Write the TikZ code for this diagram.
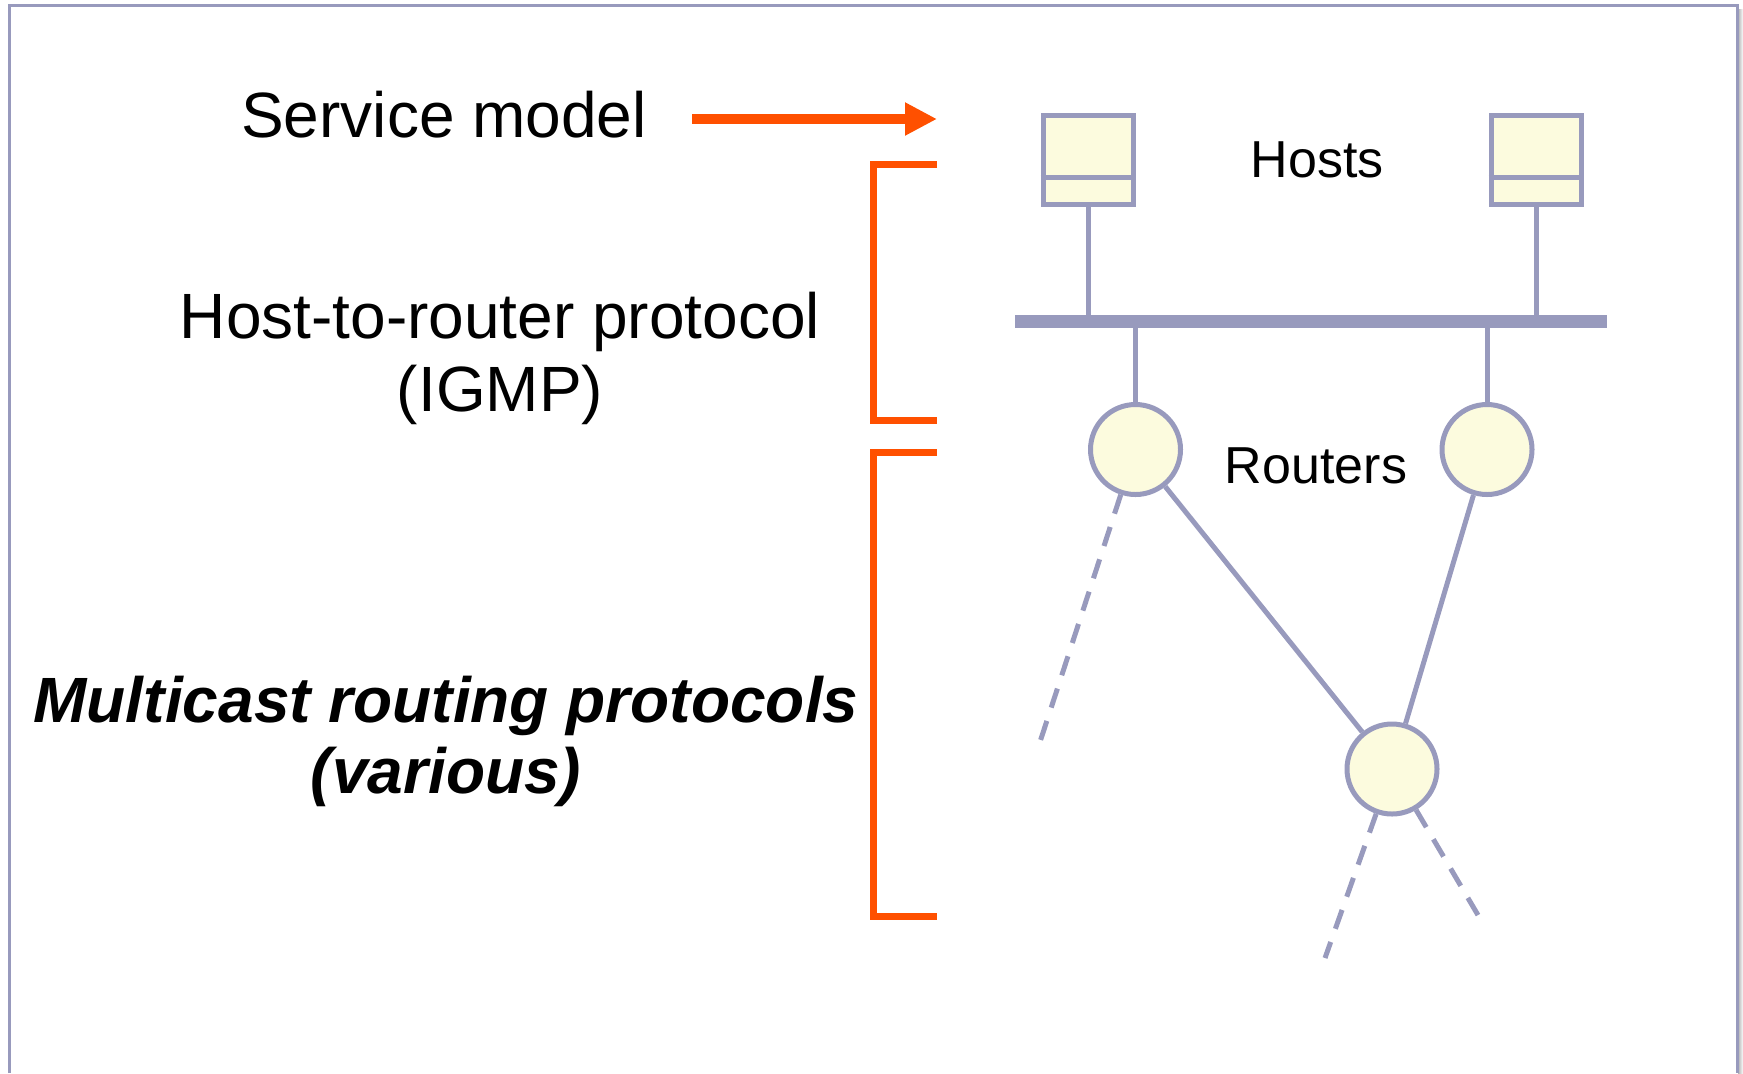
\documentclass[tikz,border=0pt]{standalone}
\usepackage{fontspec}
\setmainfont{Liberation Sans}
\usetikzlibrary{arrows.meta,calc}
\definecolor{netblue}{RGB}{152,154,189}
\definecolor{netfill}{RGB}{252,251,222}
\definecolor{brkorange}{RGB}{255,80,0}
\begin{document}
\begin{tikzpicture}
  [
    x=0.5pt, y=-0.5pt,
    host/.style =
      {draw=netblue, fill=netfill, line width=2.5pt, rectangle,
       minimum width=45pt, minimum height=44.5pt, inner sep=0pt},
    router/.style =
      {draw=netblue, fill=netfill, line width=2.5pt, circle,
       minimum size=45pt, inner sep=0pt},
    lan/.style =
      {fill=netblue, rectangle, minimum width=296pt, minimum height=6.5pt, inner sep=0pt},
    link/.style    = {draw=netblue, line width=2.5pt},
    stub/.style    = {link, dash pattern=on 10pt off 7pt},
    bracket/.style = {draw=brkorange, line width=3.5pt},
    pointer/.style = {draw=brkorange, line width=5pt, -{Triangle[length=16pt, width=15.5pt]}},
    bigtext/.style   = {anchor=base, inner sep=0pt, font=\fontsize{32}{38}\selectfont},
    boldtext/.style  = {anchor=base, inner sep=0pt, font=\fontsize{32}{38}\selectfont\bfseries\itshape},
    smalltext/.style = {anchor=base, inner sep=0pt, font=\fontsize{26}{31}\selectfont}
  ]
  \useasboundingbox (0,0) rectangle (1743,1073);
  \shade [left color=black!30, right color=white] (1738,9) rectangle (1743,1073);
  \draw [netblue, line width=1.5pt] (9,1073) -- (9,5) -- (1737,5) -- (1737,1073);

  \node [bigtext]   at ( 444,137) (svc)  {Service model};
  \node [bigtext]   at ( 500,338) (h2r)  {Host-to-router protocol};
  \node [bigtext]   at ( 500,411) (igmp) {(IGMP)};
  \node [boldtext]  at ( 446,722) (mrp)  {Multicast routing protocols};
  \node [boldtext]  at ( 446,793) (var)  {(various)};
  \node [smalltext] at (1317,177) (hl)   {Hosts};
  \node [smalltext] at (1316,483) (rl)   {Routers};

  \node [host]   at (1088,160) (h1) {};
  \node [host]   at (1536,160) (h2) {};
  \node [lan]    at (1311,321.5) (bus) {};
  \node [router] at (1135.5,449.5) (r1) {};
  \node [router] at (1487,449.5) (r2) {};
  \node [router] at (1392,769) (r3) {};

  \coordinate (a1)  at (692,119);
  \coordinate (a2)  at (937,119);
  \coordinate (b1t) at (937,164);
  \coordinate (b1b) at (937,420);
  \coordinate (b2t) at (937,452);
  \coordinate (b2b) at (937,916);
  \coordinate (s1)  at (1037,751);
  \coordinate (s2)  at (1325,958);
  \coordinate (s3)  at (1485,927);

  \draw [pointer] (a1) -- (a2);
  \draw [bracket] (b1t) -- ++(-64,0) |- (b1b);
  \draw [bracket] (b2t) -- ++(-64,0) |- (b2b);

  \draw [link] ($(h1.south west)!0.31!(h1.north west)$) -- ($(h1.south east)!0.31!(h1.north east)$);
  \draw [link] ($(h2.south west)!0.31!(h2.north west)$) -- ($(h2.south east)!0.31!(h2.north east)$);
  \draw [link] (h1.south)          -- (h1.south |- bus.north);
  \draw [link] (h2.south)          -- (h2.south |- bus.north);
  \draw [link] (r1.north |- bus.south) -- (r1.north);
  \draw [link] (r2.north |- bus.south) -- (r2.north);
  \draw [link] (r1) -- (r3);
  \draw [link] (r2) -- (r3);
  \draw [stub] (r1) -- (s1);
  \draw [stub] (r3) -- (s2);
  \draw [stub] (r3) -- (s3);
\end{tikzpicture}
\end{document}
